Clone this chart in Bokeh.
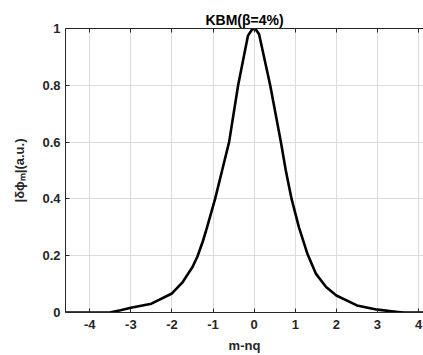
from bokeh.plotting import figure
from bokeh.models import Range1d, LinearAxis, FixedTicker, ColumnDataSource
from bokeh.embed import file_html
from bokeh.resources import INLINE

# data
x_vals = [-4.6, -3.51, -3.25, -3.0, -2.5, -2.0, -1.75, -1.5, -1.38, -1.25, -1.15, -0.95,
          -0.78, -0.61, -0.39, -0.15, -0.06, 0.0, 0.05, 0.12, 0.39, 0.65, 0.77, 0.91, 1.09,
          1.3, 1.5, 1.75, 2.0, 2.5, 3.0, 3.5, 3.65, 4.6]
y_vals = [0.0, 0.0, 0.008, 0.017, 0.031, 0.067, 0.105, 0.16, 0.197, 0.25, 0.298, 0.4,
          0.5, 0.6, 0.8, 0.975, 0.995, 1.0, 0.995, 0.98, 0.8, 0.6, 0.5, 0.4, 0.3,
          0.205, 0.137, 0.09, 0.06, 0.025, 0.01, 0.002, 0.0, 0.0]
x_ticks = [-4, -3, -2, -1, 0, 1, 2, 3, 4]
x_tick_labels = {-4: "-4", -3: "-3", -2: "-2", -1: "-1", 0: "0", 1: "1", 2: "2", 3: "3", 4: "4"}
top_tick_labels = {t: "" for t in x_ticks}
y_ticks = [0, 0.2, 0.4, 0.6, 0.8, 1.0]
y_tick_labels = {0: "0", 0.2: "0.2", 0.4: "0.4", 0.6: "0.6", 0.8: "0.8", 1.0: "1"}
title_text = "KBM(β=4%)"
ylabel = "|δϕₘ|(a.u.)"
xlabel = "m-nq"

FONT = "Liberation Sans"
AX = "#262626"

p = figure(width=423, height=355, output_backend="svg", toolbar_location=None,
           x_range=Range1d(-4.59, 4.12), y_range=Range1d(0, 1),
           min_border_left=65, min_border_right=0, min_border_top=28, min_border_bottom=42,
           x_axis_location=None, y_axis_location=None, title=title_text)
p.outline_line_color = None
p.background_fill_color = "white"
p.border_fill_color = "white"
p.title.text_font = FONT
p.title.text_font_style = "bold"
p.title.text_font_size = "14px"
p.title.text_color = "black"
p.title.align = "center"
p.title.standoff = 2
p.title.offset = 0

def style_axis(ax):
    ax.axis_line_color = AX
    ax.axis_line_width = 1
    ax.major_tick_line_color = AX
    ax.major_tick_in = 4
    ax.major_tick_out = 0
    ax.minor_tick_line_color = None
    ax.major_label_text_font = FONT
    ax.major_label_text_font_style = "bold"
    ax.major_label_text_font_size = "13px"
    ax.major_label_text_color = AX
    ax.axis_label_text_font = FONT
    ax.axis_label_text_font_style = "bold"
    ax.axis_label_text_font_size = "13px"
    ax.axis_label_text_color = AX

xa = LinearAxis(ticker=FixedTicker(ticks=x_ticks), major_label_overrides=x_tick_labels,
                axis_label=xlabel)
style_axis(xa)
xa.major_label_standoff = 7
xa.axis_label_standoff = 6
p.add_layout(xa, "below")

ya = LinearAxis(ticker=FixedTicker(ticks=y_ticks), major_label_overrides=y_tick_labels,
                axis_label=ylabel)
style_axis(ya)
ya.major_label_standoff = 5
ya.axis_label_standoff = 12
p.add_layout(ya, "left")

ta = LinearAxis(ticker=FixedTicker(ticks=x_ticks), major_label_overrides=top_tick_labels)
style_axis(ta)
ta.major_label_standoff = 0
p.add_layout(ta, "above")

p.xgrid.ticker = FixedTicker(ticks=x_ticks)
p.ygrid.ticker = FixedTicker(ticks=y_ticks)
for g in (p.xgrid, p.ygrid):
    g.grid_line_color = "#dcdcdc"
    g.grid_line_width = 1

src = ColumnDataSource(dict(x=x_vals, y=y_vals))
p.line("x", "y", source=src, line_color="black", line_width=2.6, line_join="round")

open("out.html", "w").write(file_html(p, INLINE))
